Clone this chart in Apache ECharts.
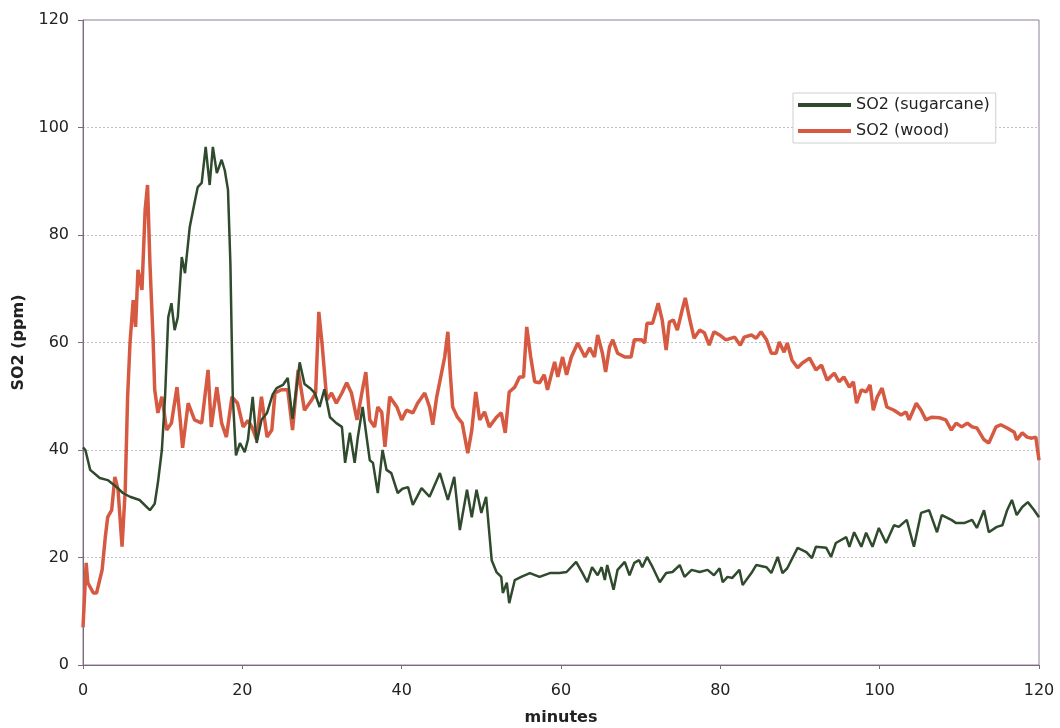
<!DOCTYPE html>
<html>
<head>
<meta charset="utf-8">
<script src="https://cdn.jsdelivr.net/npm/echarts@6/dist/echarts.min.js"></script>
<style>
html,body{margin:0;padding:0;background:#fff;}
#chart{width:1060px;height:728px;}
</style>
</head>
<body>
<div id="chart"></div>
<script>
// ---- Data ----
const seriesNames = ['SO2 (sugarcane)', 'SO2 (wood)'];
const yTicks = [0, 20, 40, 60, 80, 100, 120];
const xTicks = [0, 20, 40, 60, 80, 100, 120];

const caneMinutes = [0,0.3,0.9,2.1,3.1,4.3,5.0,5.9,7.1,8.4,9.0,9.4,9.9,10.3,10.7,11.1,11.5,11.9,12.4,12.8,13.4,14.0,14.4,14.9,15.4,15.9,16.3,16.8,17.4,17.8,18.2,18.5,18.8,19.2,19.7,20.3,20.7,21.3,21.8,22.4,23.1,23.8,24.3,25.1,25.7,26.3,27.2,27.8,28.5,29.1,29.7,30.3,31.0,31.8,32.5,32.9,33.5,34.1,34.5,35.1,35.6,36.0,36.4,37.0,37.6,38.1,38.7,39.5,40.1,40.8,41.4,42.5,43.5,44.8,45.8,46.6,47.3,48.2,48.8,49.4,50.0,50.6,51.3,51.9,52.5,52.7,53.2,53.5,54.2,55.0,56.1,57.3,58.6,59.8,60.7,61.9,62.7,63.3,63.9,64.6,65.1,65.5,65.8,66.6,67.1,68.0,68.6,69.2,69.8,70.2,70.8,71.5,72.4,73.2,74.0,74.9,75.5,76.4,77.4,78.4,79.2,79.9,80.3,80.9,81.5,82.4,82.8,83.9,84.5,85.8,86.4,87.2,87.8,88.4,89.7,90.8,91.5,92.0,93.3,93.9,94.5,95.8,96.2,96.8,97.7,98.3,99.1,99.9,100.8,101.8,102.4,103.4,104.3,105.2,106.2,107.2,107.8,109.0,109.6,110.6,111.6,112.2,113.1,113.7,114.7,115.4,116.0,116.6,117.2,117.9,118.6,119.4,120.0];
const canePpm = [40.5,40,36.3,34.8,34.4,33,32,31.3,30.7,28.8,30,33.9,40,49.9,64.7,67.3,62.3,64.7,75.9,72.9,81.5,86,88.9,89.7,96.4,89.3,96.4,91.5,94,92,88.4,74.8,49.9,39,41.3,39.6,41.9,49.9,41.3,45.6,46.9,50.3,51.5,52.1,53.4,45.8,56.3,52.3,51.5,50.6,48,51.3,46.1,45,44.3,37.6,43.2,37.6,42.4,48,42.4,38.1,37.6,32,40,36.3,35.7,32,32.8,33.1,29.8,32.9,31.3,35.7,30.7,35,25.1,32.6,27.5,32.6,28.3,31.3,19.5,17.3,16.4,13.4,15.3,11.5,15.8,16.4,17.1,16.4,17.1,17.1,17.3,19.2,17.1,15.4,18.2,16.7,18.2,15.8,18.6,14,17.7,19.2,16.7,19,19.5,18.2,20.1,18.2,15.4,17.1,17.3,18.6,16.4,17.7,17.3,17.7,16.7,18,15.4,16.4,16.2,17.7,14.9,17.1,18.6,18.2,17.1,20.1,17.1,18,21.8,21,19.9,22,21.8,20.1,22.7,23.8,22,24.7,22,24.6,22,25.5,22.7,26,25.7,27,22,28.3,28.8,24.7,27.9,27,26.4,26.4,27,25.5,28.8,24.7,25.7,26,28.8,30.7,27.9,29.4,30.3,28.8,27.5];

const woodMinutes = [0.0,0.4,0.6,1.3,1.7,2.4,2.8,3.1,3.6,4.0,4.4,4.9,5.3,5.6,5.9,6.3,6.6,6.9,7.4,7.8,8.1,8.4,8.8,9.0,9.4,9.9,10.5,11.1,11.8,12.2,12.5,13.2,14.0,14.9,15.7,16.1,16.8,17.4,18.0,18.7,19.4,20.1,20.7,21.2,21.8,22.4,23.1,23.7,24.1,24.9,25.7,26.3,27.0,27.8,28.7,29.2,29.6,30.0,30.6,31.2,31.8,32.5,33.1,33.7,34.4,35.0,35.5,36.0,36.6,37.0,37.5,37.9,38.5,39.4,40.0,40.6,41.4,42.0,42.9,43.5,43.9,44.4,45.0,45.4,45.8,46.1,46.4,47.0,47.6,48.3,48.8,49.3,49.8,50.4,51.0,51.9,52.5,53.0,53.5,54.2,54.8,55.3,55.7,56.2,56.7,57.3,57.9,58.3,59.2,59.6,60.2,60.7,61.3,62.1,63.0,63.6,64.2,64.6,65.2,65.6,66.1,66.5,67.1,68.0,68.8,69.2,70.1,70.5,70.8,71.5,72.2,72.7,73.2,73.6,74.1,74.6,75.2,75.6,76.1,76.7,77.4,78.0,78.6,79.2,79.9,80.7,81.8,82.5,83.0,83.9,84.5,85.1,85.8,86.4,87.0,87.4,88.0,88.4,89.0,89.7,90.3,91.2,92.0,92.7,93.4,94.3,94.9,95.5,96.2,96.7,97.1,97.7,98.3,98.8,99.2,99.7,100.3,100.9,101.8,102.7,103.3,103.7,104.6,105.2,105.8,106.5,107.5,108.3,109.0,109.6,110.3,111.0,111.6,112.2,113.1,113.7,114.6,115.2,116.0,116.9,117.2,117.9,118.5,119.1,119.6,120.0];
const woodPpm = [7,19,15.3,13.4,13.4,17.7,23.8,27.5,28.8,35,32.6,22,32.6,49.9,59.9,67.9,62.9,73.5,69.8,84.7,89.3,74.8,60.5,51.2,46.9,49.9,43.7,45,51.7,45.6,40.4,48.7,45.6,45,54.9,44.3,51.7,45,42.4,49.9,48.7,44.3,45.5,44.3,41.9,49.9,42.4,43.7,50.6,51.2,51.2,43.7,54.9,47.4,49.3,50.6,65.7,59.9,49.3,50.6,48.7,50.6,52.5,50.6,45.6,50.6,54.5,45.6,44.3,48,47,40.6,49.9,48,45.6,47.4,46.9,48.7,50.6,48,44.7,49.9,54.3,57.3,62,54.3,48,46.1,45,39.4,43.7,50.8,45.6,47.1,44.3,46.1,46.9,43.2,50.8,51.7,53.6,53.6,62.9,57.3,52.7,52.5,54,51.2,56.4,53.6,57.3,54,57.3,59.9,57.3,59,57.3,61.4,58,54.5,59.2,60.5,58,57.3,57.3,60.5,60.5,59.9,63.6,63.6,67.3,64.2,58.6,63.8,64.2,62.3,66,68.3,64.7,60.8,62.3,61.8,59.5,62,61.4,60.5,61,59.5,61,61.4,60.8,62,60.5,58,58,60.1,58.2,59.9,56.7,55.3,56.2,57.1,54.9,55.8,53,54.3,52.7,53.6,51.7,52.7,48.7,51.2,50.8,52.1,47.4,49.9,51.5,48,47.4,46.5,47.1,45.6,48.7,47.4,45.6,46.1,46,45.6,43.7,45,44.3,45,44.3,44.1,41.9,41.3,44.3,44.7,44.1,43.3,41.9,43.2,42.4,42.2,42.4,38.1];

const pairs = (xs, ys) => xs.map((x, i) => [x, ys[i]]);

const chart = echarts.init(document.getElementById('chart'), null, {renderer: 'canvas'});
const font = 'DejaVu Sans';
chart.setOption({
  animation: false,
  backgroundColor: '#ffffff',
  textStyle: {fontFamily: font},
  grid: {
    left: 83, right: 21, top: 20, bottom: 63,
    containLabel: false,
    outerBoundsMode: 'none',
    show: true, borderColor: '#8f8099', borderWidth: 1, backgroundColor: 'transparent'
  },
  legend: {
    data: seriesNames,
    orient: 'vertical',
    left: 793, top: 93,
    padding: [2, 6, 2, 5],
    itemGap: 6,
    itemWidth: 53,
    itemHeight: 4,
    icon: 'rect',
    backgroundColor: '#ffffff',
    borderColor: '#cfcfcf',
    borderWidth: 1,
    textStyle: {fontFamily: font, fontSize: 16, color: '#222', lineHeight: 20}
  },
  xAxis: {
    type: 'value',
    min: xTicks[0], max: xTicks[xTicks.length - 1], interval: 20,
    name: 'minutes',
    nameLocation: 'middle',
    nameGap: 45,
    nameTextStyle: {fontFamily: font, fontSize: 16, fontWeight: 'bold', color: '#222'},
    axisLine: {show: true, lineStyle: {color: '#7a6a7a', width: 1}},
    axisTick: {show: true, length: 4, lineStyle: {color: '#7a6a7a'}},
    axisLabel: {fontFamily: font, fontSize: 16, color: '#222', margin: 18},
    splitLine: {show: false}
  },
  yAxis: {
    type: 'value',
    min: yTicks[0], max: yTicks[yTicks.length - 1], interval: 20,
    name: 'SO2 (ppm)',
    nameLocation: 'middle',
    nameGap: 56,
    nameRotate: 90,
    nameTextStyle: {fontFamily: font, fontSize: 16, fontWeight: 'bold', color: '#222'},
    axisLine: {show: true, lineStyle: {color: '#7a6a7a', width: 1}},
    axisTick: {show: true, length: 5, lineStyle: {color: '#7a6a7a'}},
    axisLabel: {fontFamily: font, fontSize: 16, color: '#222', margin: 14},
    splitLine: {show: true, lineStyle: {color: '#c4bec4', width: 1, type: [2, 2]}}
  },
  series: [
    {
      name: seriesNames[1],
      type: 'line',
      data: pairs(woodMinutes, woodPpm),
      showSymbol: false,
      symbol: 'none',
      lineStyle: {color: '#d65a42', width: 3.5},
      itemStyle: {color: '#d65a42'},
      z: 2
    },
    {
      name: seriesNames[0],
      type: 'line',
      data: pairs(caneMinutes, canePpm),
      showSymbol: false,
      symbol: 'none',
      lineStyle: {color: '#2f4a2c', width: 2.5},
      itemStyle: {color: '#2f4a2c'},
      z: 3
    }
  ]
});
</script>
</body>
</html>
